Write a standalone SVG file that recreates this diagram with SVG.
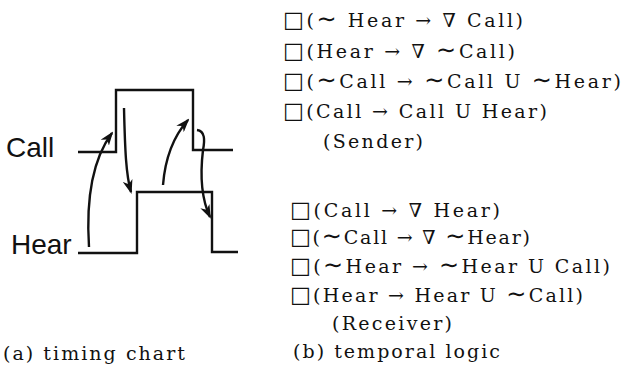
<svg xmlns="http://www.w3.org/2000/svg" width="624" height="378" viewBox="0 0 624 378">
<style>
.wave{fill:none;stroke:#111;stroke-width:2.4;stroke-linejoin:miter}
.arr{fill:none;stroke:#111;stroke-width:2.4;marker-end:url(#ah)}
.lbl{font-family:"Liberation Sans",Arial,sans-serif;font-size:28px;fill:#111}
.lg{font-family:"DejaVu Serif","Liberation Serif",serif;font-size:19px;fill:#111}
.bx{font-family:"DejaVu Sans",sans-serif;font-size:22px}
.tl{font-family:"DejaVu Sans",sans-serif;font-size:24px}
</style>
<defs>
<marker id="ah" viewBox="0 0 14 10" refX="12" refY="5" markerWidth="14" markerHeight="10" markerUnits="userSpaceOnUse" orient="auto">
<path d="M0,0 L14,5 L0,10 L4,5 Z" fill="#111"/>
</marker>
</defs>
<rect width="624" height="378" fill="#fff"/>
<g id="call-signal">
<path class="wave" d="M78,152 H116 V90 H193 V150 H233"/>
<text class="lbl" x="6" y="157">Call</text>
</g>
<g id="hear-signal">
<path class="wave" d="M78,253 H137 V192 H212 V252 H238"/>
<text class="lbl" x="11" y="254">Hear</text>
</g>
<g id="connectors">
<path class="arr" d="M89,247 C86,200 92,160 112,133"/>
<path class="arr" d="M124,108 C125,150 126,175 131,192"/>
<path class="arr" d="M163,185 C165,160 172,138 188,120"/>
<path class="arr" d="M197,130 C205,131 205,140 203,150 C200,175 202,200 210,217"/>
</g>
<g id="caption-a">
<text class="lg" x="3" y="360" textLength="182">(a) timing chart</text>
</g>
<g id="sender">
<text class="lg" x="283" y="27" textLength="240"><tspan class="bx">□</tspan>(<tspan class="tl">∼</tspan> Hear → ∇ Call)</text>
<text class="lg" x="283" y="58" textLength="232"><tspan class="bx">□</tspan>(Hear → ∇ <tspan class="tl">∼</tspan>Call)</text>
<text class="lg" x="283" y="88" textLength="338"><tspan class="bx">□</tspan>(<tspan class="tl">∼</tspan>Call → <tspan class="tl">∼</tspan>Call U <tspan class="tl">∼</tspan>Hear)</text>
<text class="lg" x="283" y="118" textLength="264"><tspan class="bx">□</tspan>(Call → Call U Hear)</text>
<text class="lg" x="323" y="148" textLength="100">(Sender)</text>
</g>
<g id="receiver">
<text class="lg" x="290" y="217" textLength="210"><tspan class="bx">□</tspan>(Call → ∇ Hear)</text>
<text class="lg" x="290" y="244" textLength="240"><tspan class="bx">□</tspan>(<tspan class="tl">∼</tspan>Call → ∇ <tspan class="tl">∼</tspan>Hear)</text>
<text class="lg" x="290" y="273" textLength="320"><tspan class="bx">□</tspan>(<tspan class="tl">∼</tspan>Hear → <tspan class="tl">∼</tspan>Hear U Call)</text>
<text class="lg" x="290" y="302" textLength="293"><tspan class="bx">□</tspan>(Hear → Hear U <tspan class="tl">∼</tspan>Call)</text>
<text class="lg" x="332" y="330" textLength="120">(Receiver)</text>
</g>
<g id="caption-b">
<text class="lg" x="293" y="358" textLength="207">(b) temporal logic</text>
</g>
</svg>
